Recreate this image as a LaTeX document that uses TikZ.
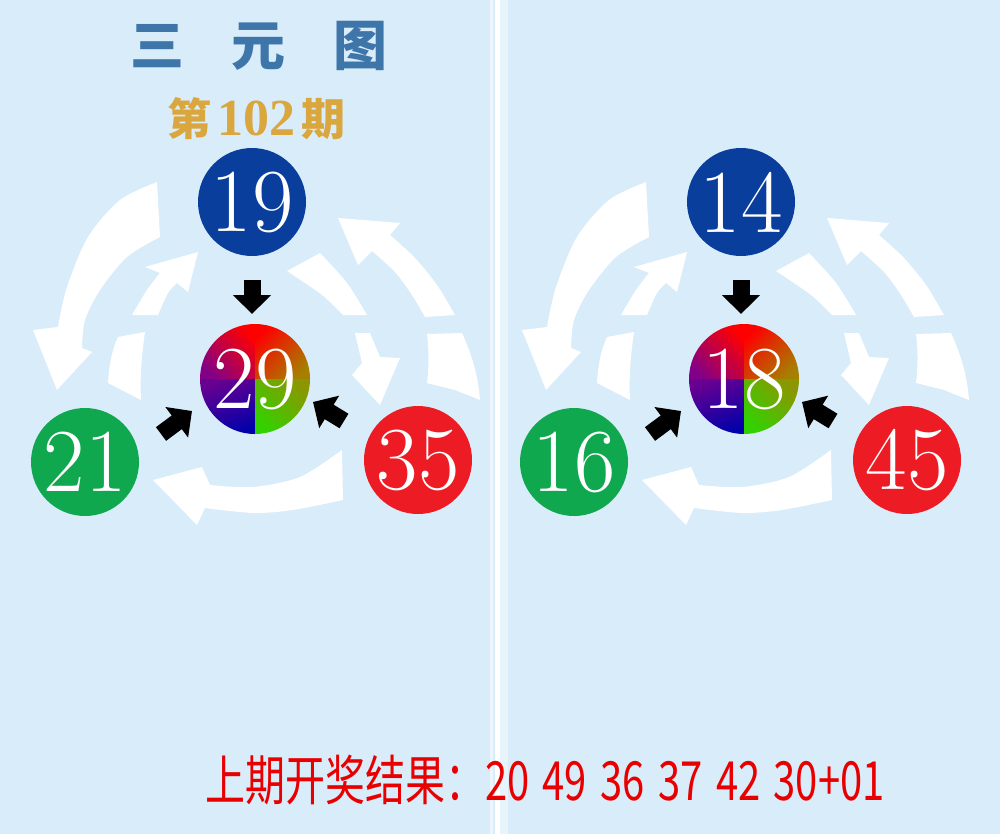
\documentclass[tikz,border=0pt]{standalone}
\usepackage{fontspec}
\usepackage{graphicx}
\newfontfamily\cjk{Noto Sans CJK SC}
\newfontfamily\digserif{Liberation Serif}
\usetikzlibrary{arrows.meta}
\definecolor{bg}{RGB}{217,236,250}
\definecolor{ballblue}{RGB}{10,62,156}
\definecolor{ballgreen}{RGB}{16,168,78}
\definecolor{ballred}{RGB}{237,28,36}
\definecolor{titleblue}{RGB}{62,118,170}
\definecolor{gold}{RGB}{218,166,62}
\definecolor{resred}{RGB}{232,0,0}
\definecolor{qpurple}{RGB}{130,0,135}
\definecolor{qolive}{RGB}{165,128,0}
\definecolor{qviolet}{RGB}{105,0,145}
\definecolor{qblue}{RGB}{0,0,170}
\definecolor{qgreen}{RGB}{50,210,0}
\definecolor{qlime}{RGB}{140,150,0}
\tikzset{
  ball/.style={circle, minimum size=108pt, inner sep=0pt, text=white,
    font=\fontsize{90}{90}\selectfont},
  warrow/.style={fill=white},
  blackarrow/.style={line width=17pt, black, -{Triangle[width=37pt,length=19pt]}},
}
\newcommand\threepanel[5]{%
  % white curved arrows
  \fill[warrow] plot[smooth] coordinates {(157,182) (120,200) (88,237) (67,287) (58,327)}
    -- (33,330) -- (57,390) -- (92,352)
    -- plot[smooth] coordinates {(82,348) (85,320) (100,290) (127,257) (160,237)} -- cycle;
  \fill[warrow] (118,337) -- (145,332) .. controls (141,360) and (140,380) .. (141,400)
    -- (108,383) .. controls (109,365) and (112,350) .. (118,337) -- cycle;
  \fill[warrow] plot[smooth] coordinates {(132,315) (147,290) (160,273)}
    -- (145,267) -- (198,252) -- (188,292)
    -- plot[smooth] coordinates {(177,283) (168,293) (158,315)} -- cycle;
  \fill[warrow] plot[smooth] coordinates {(455,315) (437,285) (415,258) (390,235)}
    -- (400,223) -- (338,218) -- (358,265)
    -- plot[smooth] coordinates {(372,251) (395,272) (412,295) (425,317)} -- cycle;
  \fill[warrow] (427,334) -- (462,333) .. controls (472,355) and (478,375) .. (480,400)
    -- (455,390) -- (427,383) .. controls (429,365) and (429,350) .. (427,334) -- cycle;
  \fill[warrow] plot[smooth] coordinates {(320,253) (347,283) (367,315)}
    -- (343,315) -- plot[smooth] coordinates {(343,315) (322,295) (287,271)} -- cycle;
  \fill[warrow] (355,333) -- (362,363) -- (352,375) -- (380,405) -- (400,358)
    -- (380,357) -- (370,333) -- cycle;
  \fill[warrow] plot[smooth] coordinates {(342,450) (300,477) (253,487) (210,485)}
    -- (202,467) -- (153,480) -- (197,525)
    -- plot[smooth] coordinates {(205,508) (253,513) (293,510) (343,500)} -- cycle;
  % centre circle colours
  \begin{scope}
    \clip (255,379) circle[radius=55pt];
    \shade[top color=red, bottom color=qpurple, shading angle=-45] (255,379) rectangle (198,322);
    \shade[top color=red, bottom color=qolive, shading angle=45] (255,379) rectangle (312,322);
    \shade[top color=qviolet, bottom color=qblue, shading angle=20] (255,379) rectangle (198,436);
    \shade[top color=qlime, bottom color=qgreen, shading angle=-45] (255,379) rectangle (312,436);
  \end{scope}
  % number balls
  \node[ball, fill=ballblue] (#1top) at (252,202) {#2};
  \node[ball, minimum size=110pt] (#1mid) at (255,379) {#3};
  \node[ball, fill=ballgreen] (#1left) at (85,462) {#4};
  \node[ball, fill=ballred] (#1right) at (418,460) {#5};
  % black arrows
  \coordinate (#1ta) at (252,280); \coordinate (#1tb) at (252,314);
  \coordinate (#1la) at (161,434); \coordinate (#1lb) at (192,411);
  \coordinate (#1ra) at (344,421); \coordinate (#1rb) at (313,402);
  \draw[blackarrow] (#1ta) -- (#1tb);
  \draw[blackarrow] (#1la) -- (#1lb);
  \draw[blackarrow] (#1ra) -- (#1rb);
}
\begin{document}
\begin{tikzpicture}[x=1pt, y=-1pt]
  \useasboundingbox (0,0) rectangle (1000,834);
  \fill[bg] (0,0) rectangle (1000,834);
  \fill[white!55!bg] (490,0) rectangle (493,834);
  \fill[white] (495,0) rectangle (500,834);
  \fill[white!40!bg] (500,0) rectangle (508,834);
  % title
  \node[font=\cjk\bfseries\fontsize{54}{54}\selectfont, text=titleblue] (title) at (259,46) {三\hspace{48pt}元\hspace{48pt}图};
  \node[text=gold] (issue) at (256,119) {\cjk\bfseries\fontsize{44}{44}\selectfont 第\hspace{6pt}\digserif\bfseries\fontsize{52}{52}\selectfont 102\hspace{6pt}\cjk\bfseries\fontsize{44}{44}\selectfont 期};
  % panels
  \threepanel{a}{19}{29}{21}{35}
  \begin{scope}[xshift=489pt]
    \threepanel{b}{14}{18}{16}{45}
  \end{scope}
  % result line
  \node[text=resred, font=\cjk\fontsize{54}{54}\selectfont] (result) at (545,780) {\scalebox{0.74}[1]{上期开奖结果：20\hspace{6pt} 49\hspace{6pt} 36\hspace{6pt} 37\hspace{6pt} 42\hspace{6pt} 30+01}};
\end{tikzpicture}
\end{document}
